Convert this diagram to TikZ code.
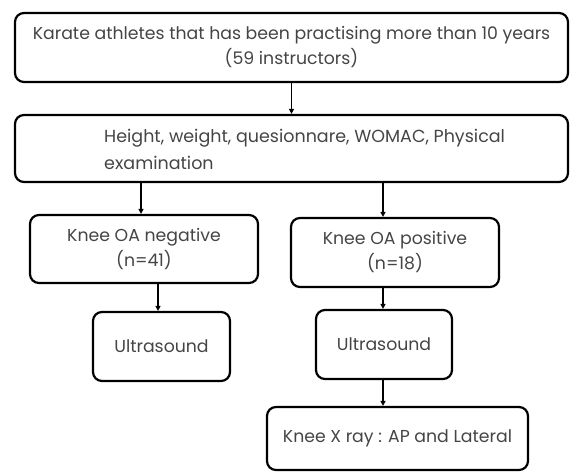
\documentclass[tikz,border=0pt]{standalone}
\usepackage{fontspec}
\setmainfont{Poppins}
\usetikzlibrary{arrows.meta,calc}
\definecolor{txt}{HTML}{454545}
\begin{document}
\begin{tikzpicture}[x=1pt,y=-1pt,
  box/.style={draw=black,line width=2.2pt,rounded corners=9pt,align=center,text=txt,
    font=\fontsize{17.3}{25}\selectfont,inner sep=0pt},
  lbl/.style={text=txt,font=\fontsize{17.5}{27}\selectfont,inner sep=0pt},
  arr/.style={line width=1.4pt,-{Triangle[length=5pt,width=5pt]}}]
\useasboundingbox (0,0) rectangle (570,472);
\node[box,minimum width=553pt,minimum height=69pt] (b1) at (291.5,47.5)
  {Karate athletes that has been practising more than 10 years\\(59 instructors)};
\node[box,minimum width=553pt,minimum height=67pt] (b2) at (291.5,148.5) {};
\node[lbl,anchor=west,align=left] (b2t) at (104,149.5)
  {Height, weight, quesionnare, WOMAC, Physical\\examination};
\node[box,minimum width=228pt,minimum height=68pt] (neg) at (144,249)
  {Knee OA negative\\(n=41)};
\node[box,minimum width=208pt,minimum height=69pt] (pos) at (395,252.5)
  {Knee OA positive\\(n=18)};
\node[box,minimum width=137pt,minimum height=69pt] (usl) at (161.5,346.5) {Ultrasound};
\node[box,minimum width=136pt,minimum height=69pt] (usr) at (384,344.5) {Ultrasound};
\node[box,minimum width=261pt,minimum height=63pt] (xr) at (397.5,438.5)
  {Knee X ray : AP and Lateral};
\draw[arr] (b1.south) -- (b2.north);
\draw[arr] ([xshift=-3pt]neg.north |- b2.south) -- ([xshift=-3pt]neg.north);
\draw[arr] ([xshift=-12pt]pos.north |- b2.south) -- ([xshift=-12pt]pos.north);
\draw[arr] ([xshift=-3.5pt]usl.north |- neg.south) -- ([xshift=-3.5pt]usl.north);
\draw[arr] ([xshift=-1pt]usr.north |- pos.south) -- ([xshift=-1pt]usr.north);
\draw[arr] ([xshift=-1pt]usr.south) -- ([xshift=-1pt]usr.south |- xr.north);
\end{tikzpicture}
\end{document}
